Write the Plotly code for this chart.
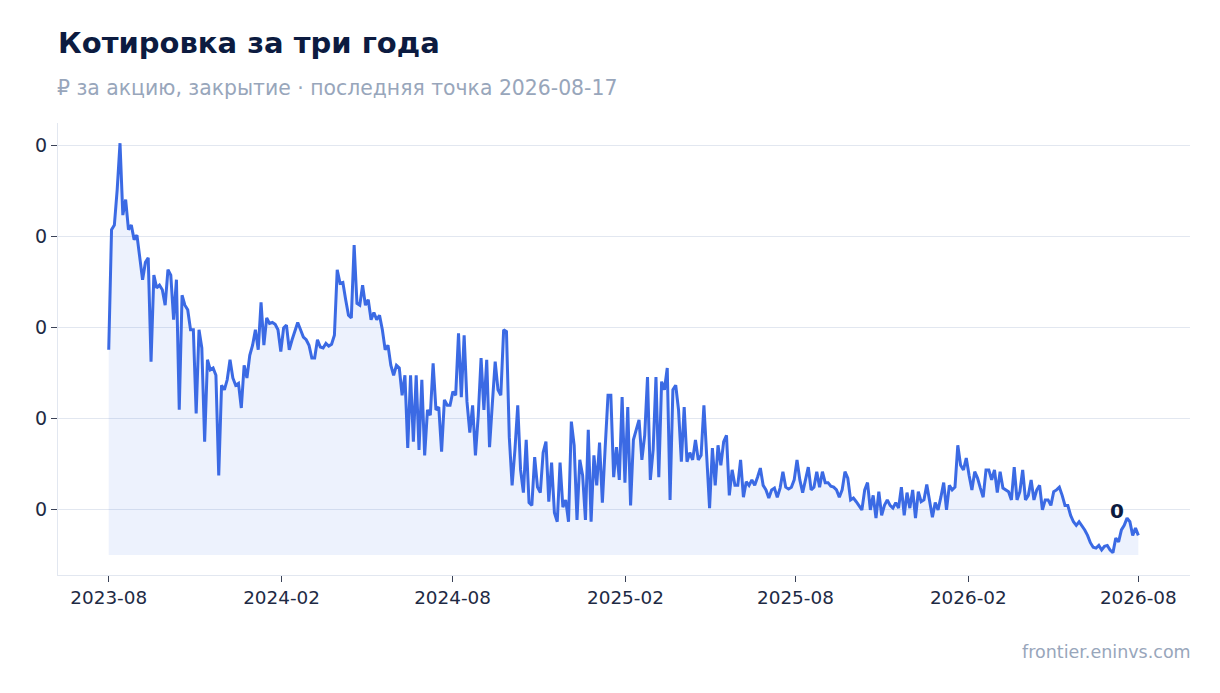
import pandas as pd
import plotly.graph_objects as go

START_DATE = "2023-08-17"
END_DATE = "2026-08-17"

# closing price, ₽ per share (sampled roughly every 3 days)
PRICE = [
    0.0275, 0.0407, 0.0412, 0.0451, 0.0502, 0.0423, 0.0440, 0.0407, 0.0412, 0.0396,
    0.0401, 0.0374, 0.0352, 0.0371, 0.0376, 0.0262, 0.0357, 0.0343, 0.0346, 0.0341,
    0.0324, 0.0363, 0.0357, 0.0308, 0.0352, 0.0209, 0.0335, 0.0324, 0.0319, 0.0297,
    0.0297, 0.0205, 0.0297, 0.0277, 0.0174, 0.0264, 0.0253, 0.0255, 0.0247, 0.0137,
    0.0236, 0.0231, 0.0242, 0.0264, 0.0244, 0.0236, 0.0238, 0.0211, 0.0258, 0.0244,
    0.0269, 0.0280, 0.0297, 0.0275, 0.0327, 0.0280, 0.0310, 0.0304, 0.0305, 0.0303,
    0.0297, 0.0273, 0.0299, 0.0302, 0.0275, 0.0286, 0.0297, 0.0305, 0.0297, 0.0289,
    0.0286, 0.0280, 0.0266, 0.0266, 0.0286, 0.0278, 0.0277, 0.0282, 0.0279, 0.0281,
    0.0291, 0.0363, 0.0348, 0.0349, 0.0330, 0.0313, 0.0310, 0.0390, 0.0326, 0.0324,
    0.0346, 0.0324, 0.0330, 0.0308, 0.0316, 0.0308, 0.0313, 0.0297, 0.0275, 0.0280,
    0.0258, 0.0247, 0.0258, 0.0255, 0.0225, 0.0247, 0.0167, 0.0247, 0.0174, 0.0247,
    0.0165, 0.0242, 0.0159, 0.0209, 0.0203, 0.0260, 0.0209, 0.0212, 0.0163, 0.0220,
    0.0214, 0.0214, 0.0229, 0.0225, 0.0293, 0.0223, 0.0291, 0.0218, 0.0184, 0.0214,
    0.0159, 0.0203, 0.0266, 0.0209, 0.0264, 0.0168, 0.0216, 0.0262, 0.0231, 0.0225,
    0.0297, 0.0295, 0.0179, 0.0126, 0.0165, 0.0214, 0.0143, 0.0118, 0.0176, 0.0107,
    0.0104, 0.0157, 0.0124, 0.0118, 0.0162, 0.0174, 0.0108, 0.0151, 0.0096, 0.0086,
    0.0151, 0.0102, 0.0110, 0.0086, 0.0196, 0.0170, 0.0088, 0.0154, 0.0137, 0.0088,
    0.0187, 0.0086, 0.0159, 0.0126, 0.0173, 0.0107, 0.0168, 0.0225, 0.0225, 0.0135,
    0.0168, 0.0132, 0.0223, 0.0129, 0.0212, 0.0104, 0.0176, 0.0187, 0.0198, 0.0154,
    0.0181, 0.0245, 0.0132, 0.0165, 0.0245, 0.0135, 0.0240, 0.0231, 0.0255, 0.0110,
    0.0231, 0.0236, 0.0209, 0.0152, 0.0212, 0.0152, 0.0162, 0.0154, 0.0176, 0.0154,
    0.0159, 0.0214, 0.0163, 0.0101, 0.0167, 0.0126, 0.0170, 0.0148, 0.0174, 0.0181,
    0.0115, 0.0143, 0.0126, 0.0126, 0.0154, 0.0113, 0.0130, 0.0126, 0.0132, 0.0126,
    0.0135, 0.0145, 0.0126, 0.0121, 0.0112, 0.0121, 0.0123, 0.0113, 0.0123, 0.0141,
    0.0124, 0.0122, 0.0124, 0.0132, 0.0154, 0.0132, 0.0118, 0.0134, 0.0146, 0.0121,
    0.0124, 0.0141, 0.0124, 0.0141, 0.0129, 0.0129, 0.0125, 0.0124, 0.0121, 0.0113,
    0.0121, 0.0141, 0.0134, 0.0110, 0.0112, 0.0108, 0.0104, 0.0099, 0.0121, 0.0129,
    0.0099, 0.0115, 0.0090, 0.0119, 0.0093, 0.0104, 0.0110, 0.0104, 0.0101, 0.0107,
    0.0101, 0.0124, 0.0093, 0.0118, 0.0101, 0.0121, 0.0090, 0.0119, 0.0108, 0.0110,
    0.0127, 0.0110, 0.0091, 0.0107, 0.0099, 0.0113, 0.0129, 0.0099, 0.0126, 0.0121,
    0.0124, 0.0170, 0.0148, 0.0143, 0.0156, 0.0137, 0.0121, 0.0141, 0.0134, 0.0123,
    0.0113, 0.0143, 0.0143, 0.0132, 0.0143, 0.0118, 0.0141, 0.0123, 0.0121, 0.0119,
    0.0110, 0.0146, 0.0110, 0.0119, 0.0143, 0.0110, 0.0115, 0.0132, 0.0110, 0.0121,
    0.0126, 0.0099, 0.0110, 0.0110, 0.0104, 0.0119, 0.0121, 0.0124, 0.0115, 0.0104,
    0.0104, 0.0093, 0.0086, 0.0082, 0.0086, 0.0082, 0.0077, 0.0071, 0.0063, 0.0058,
    0.0057, 0.0060, 0.0055, 0.0059, 0.0060, 0.0055, 0.0052, 0.0068, 0.0064, 0.0077,
    0.0082, 0.0090, 0.0086, 0.0071, 0.0079, 0.0071,
]

Y_TICKS = [0.01, 0.02, 0.03, 0.04, 0.05]

TITLE = "Котировка за три года"
SUBTITLE = "₽ за акцию, закрытие · последняя точка 2026-08-17"
SOURCE = "frontier.eninvs.com"

FONT = "DejaVu Sans"
LINE = "#3b6ae4"
NAVY = "#0c1b40"
MUTED = "#98a6bb"
GRID = "#e2e7f0"
TICKTXT = "#1e2a44"

W, H = 1212, 685  # page body has an 8px margin
ML, MR, MT, MB = 50, 30, 115, 118
PH = H - MT - MB

dates = pd.date_range(START_DATE, END_DATE, periods=len(PRICE))
base = min(PRICE) * 0.95

fig = go.Figure()
fig.add_trace(go.Scatter(
    x=dates, y=[base] * len(PRICE), mode="lines",
    line=dict(width=0, color="rgba(0,0,0,0)"),
    hoverinfo="skip", showlegend=False,
))
fig.add_trace(go.Scatter(
    x=dates, y=PRICE, mode="lines",
    line=dict(color=LINE, width=3),
    fill="tonexty", fillcolor="rgba(59,106,228,0.09)",
    showlegend=False,
))

fig.add_annotation(
    x=dates[-1], y=PRICE[-1], xref="x", yref="y",
    text="<b>%s</b>" % format(PRICE[-1], ".0f"),
    showarrow=False, xanchor="right", yanchor="bottom",
    xshift=-12, yshift=10,
    font=dict(family=FONT, size=20, color=NAVY),
)
fig.add_annotation(
    x=0, y=1 + (MT + 8 - 88) / PH, xref="paper", yref="paper", text=SUBTITLE,
    showarrow=False, xanchor="left", yanchor="middle", xshift=-3,
    font=dict(family=FONT, size=20.4, color=MUTED),
)
fig.add_annotation(
    x=1, y=-(652 - (MT + 8 + PH)) / PH, xref="paper", yref="paper", text=SOURCE,
    showarrow=False, xanchor="right", yanchor="middle", xshift=3,
    font=dict(family=FONT, size=17.5, color=MUTED),
)

fig.update_layout(
    width=W, height=H,
    margin=dict(l=ML, r=MR, t=MT, b=MB),
    paper_bgcolor="white", plot_bgcolor="white",
    font=dict(family=FONT, color=TICKTXT),
    title=dict(
        text="<b>%s</b>" % TITLE, x=ML / W, xanchor="left",
        y=1 - 35 / H, yanchor="middle",
        font=dict(family=FONT, size=29, color=NAVY),
    ),
    showlegend=False,
    hovermode="x",
)
fig.update_xaxes(
    range=["2023-06-24", "2026-10-11"],
    tick0=START_DATE, dtick="M6", tickformat="%Y-%m",
    ticks="outside", ticklen=6, tickcolor="#3a4257",
    showgrid=False, zeroline=False,
    showline=True, linecolor=GRID, linewidth=1,
    tickfont=dict(family=FONT, size=18.4, color=TICKTXT),
)
fig.update_yaxes(
    range=[0.00275, 0.05242],
    tickvals=Y_TICKS, tickformat=".0f",
    ticks="outside", ticklen=6, tickcolor="#3a4257",
    showgrid=True, gridcolor=GRID, gridwidth=1, zeroline=False,
    showline=True, linecolor=GRID, linewidth=1,
    tickfont=dict(family=FONT, size=19, color=TICKTXT),
)

fig.write_html("out.html")
